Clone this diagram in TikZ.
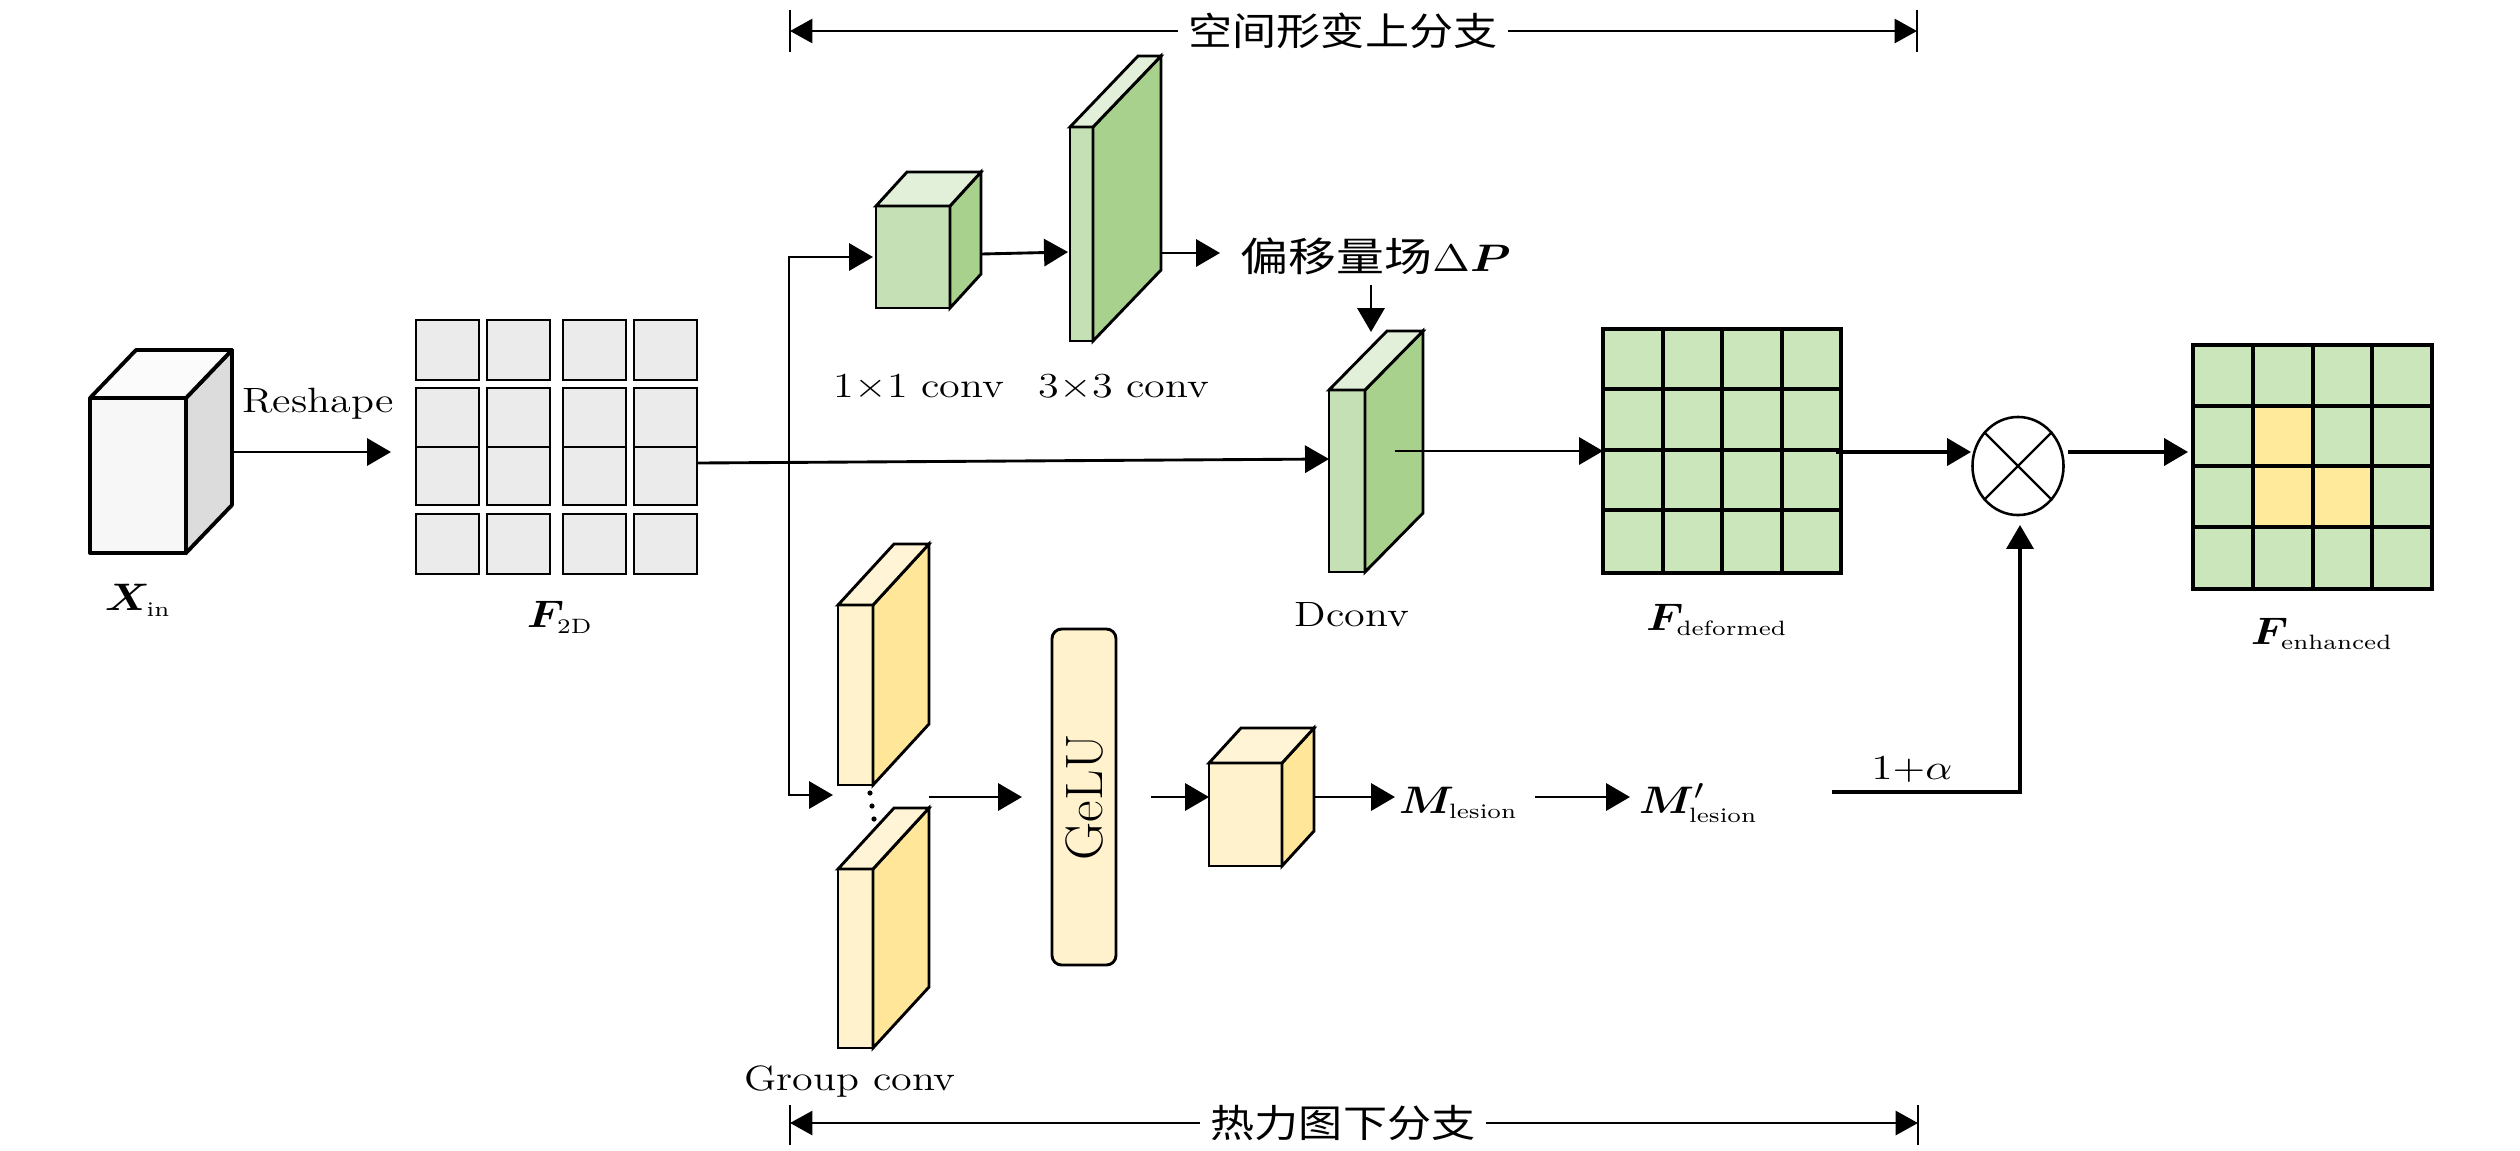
\documentclass[tikz,border=0pt]{standalone}
\usepackage{fontspec}
\usepackage{bm}
\usetikzlibrary{arrows.meta,shapes.geometric}
\newfontfamily\cjk{Noto Sans CJK SC}
\definecolor{gfront}{HTML}{C5E0B4}
\definecolor{gside}{HTML}{A9D18E}
\definecolor{gtop}{HTML}{E2F0D9}
\definecolor{gcell}{HTML}{CCE6BC}
\definecolor{yfront}{HTML}{FFF2CC}
\definecolor{yside}{HTML}{FFE699}
\definecolor{ytop}{HTML}{FFF5D6}
\definecolor{ycell}{HTML}{FFE99B}
\definecolor{xfront}{HTML}{F7F7F7}
\definecolor{xside}{HTML}{DCDCDC}
\definecolor{xtop}{HTML}{FBFBFB}
\definecolor{cellgray}{HTML}{EBEBEB}
\newcommand\cuboid[9]{%
  \filldraw[box,fill=#7] (#1,#2) rectangle (#3,#4);
  \filldraw[box,fill=#8] (#3,#2) -- ++(#5,-#6) -- ++(0,{#4-#2}) -- (#3,#4) -- cycle;
  \filldraw[box,fill=#9] (#1,#2) -- ++(#5,-#6) -- ++({#3-#1},0) -- (#3,#2) -- cycle;
}
\newcommand\mlab[2]{$\bm{#1}_{\scriptscriptstyle\mathrm{#2}}$}
\begin{document}
\begin{tikzpicture}[x=0.011cm,y=-0.011cm,
  box/.style={line width=0.9pt},
  conn/.style={line width=0.9pt,-{Triangle[length=7.5pt,width=8.5pt]}},
  dim/.style={line width=0.9pt,{Triangle[length=7pt,width=7.5pt]}-{Triangle[length=7pt,width=7.5pt]}},
  tick/.style={line width=0.5pt},
  gridline/.style={line width=1.1pt,line cap=rect},
  lbl/.style={font=\fontsize{11}{13}\selectfont,xscale=1.2,inner sep=0pt},
  mathlbl/.style={font=\fontsize{13}{15}\selectfont,xscale=1.15,inner sep=0pt},
  cjklbl/.style={font=\fontsize{12}{14}\selectfont\cjk,xscale=1.15,inner xsep=3pt,inner ysep=1pt,fill=white}]
\useasboundingbox (0,0) rectangle (2520,1150);

% ---------- dimension lines ----------
\coordinate (tl) at (790,31); \coordinate (tr) at (1917,31);
\draw[tick] (790,10) -- (790,52); \draw[tick] (1917,10) -- (1917,52);
\draw[dim] (tl) -- (tr);
\node[cjklbl] (toplbl) at (1343,31) {空间形变上分支};
\coordinate (bl) at (790,1123); \coordinate (br2) at (1918,1123);
\draw[tick] (790,1105) -- (790,1145); \draw[tick] (1918,1105) -- (1918,1145);
\draw[dim] (bl) -- (br2);
\node[cjklbl] (botlbl) at (1343,1123) {热力图下分支};

% ---------- X_in ----------
\begin{scope}[box/.style={line width=1.2pt,line join=round}]
\cuboid{90}{398}{186}{553}{46}{48}{xfront}{xside}{xtop}
\end{scope}
\node[mathlbl] (xin) at (138,600) {\mlab{X}{in}};
\coordinate (xin-e) at (232,452);
\coordinate (f2d-in) at (391,452);
\node[lbl] (reshape) at (318,404) {Reshape};
\draw[conn] (xin-e) -- (f2d-in);

% ---------- F_2D grid ----------
\foreach \xa/\xb in {416/479,487/550,563/626,634/697}
  \foreach \ya/\yb in {320/380,388/447,447/505,514/574}
    \filldraw[box,fill=cellgray] (\xa,\ya) rectangle (\xb,\yb);
\node[mathlbl] (f2d) at (560,617) {\mlab{F}{2D}};
\coordinate (f2d-e) at (697,463);

% ---------- upper branch ----------
\cuboid{876}{206}{950}{308}{31}{34}{gfront}{gside}{gtop}
\cuboid{1070}{127}{1093}{341}{68}{71}{gfront}{gside}{gtop}
\node[lbl] (c1lbl) at (919,387) {1$\times$1 conv};
\node[lbl] (c3lbl) at (1124,387) {3$\times$3 conv};
\coordinate (c1-w) at (873,257);
\coordinate (c1-e) at (981,254);
\coordinate (c3-w) at (1068,252);
\coordinate (c3-e) at (1161,253);
\coordinate (dp-in) at (1220,253);
\node[lbl,anchor=west] (dp) at (1240,256) {{\cjk\fontsize{12.5}{14}\selectfont 偏移量场}{\fontsize{13}{15}\selectfont$\Delta\bm{P}$}};
\coordinate (dp-s) at (1371,285);

% Dconv
\cuboid{1329}{390}{1365}{572}{58}{59}{gfront}{gside}{gtop}
\node[lbl] (dconv) at (1352,615) {Dconv};
\coordinate (dconv-top) at (1371,332);
\coordinate (dconv-w) at (1329,459);
\coordinate (dconv-out) at (1395,451);

\draw[conn] (c1-e) -- (c3-w);
\draw[conn] (c3-e) -- (dp-in);
\draw[conn] (dp-s) -- (dconv-top);

% main line and branch
\coordinate (brp) at (789,462);
\draw[conn] (f2d-e) -- (dconv-w);
\draw[conn] (brp) |- (c1-w);

% ---------- F_deformed ----------
\fill[gcell] (1603,329) rectangle (1841,573);
\foreach \x in {1603,1663,1722,1782,1841} \draw[gridline] (\x,329) -- (\x,573);
\foreach \y in {329,389,450,510,573} \draw[gridline] (1603,\y) -- (1841,\y);
\node[mathlbl] (fdef) at (1717,620) {\mlab{F}{deformed}};
\coordinate (fdef-w) at (1603,451);
\coordinate (fdef-e) at (1836,452);
\draw[conn] (dconv-out) -- (fdef-w);

% ---------- otimes ----------
\node[draw,line width=0.8pt,ellipse,minimum width=28.5pt,minimum height=30.7pt,inner sep=0pt] (ot) at (2018,466) {};
\draw[line width=0.7pt] (ot.135) -- (ot.-45);
\draw[line width=0.7pt] (ot.45) -- (ot.-135);
\coordinate (ot-w) at (1971,452);
\coordinate (ot-e) at (2068,452);
\coordinate (ot-s) at (2020,525);
\draw[conn,line width=1.1pt] (fdef-e) -- (ot-w);

% ---------- F_enhanced ----------
\fill[gcell] (2193,345) rectangle (2432,589);
\fill[ycell] (2253,406) rectangle (2313,527);
\fill[ycell] (2313,466) rectangle (2372,527);
\foreach \x in {2193,2253,2313,2372,2432} \draw[gridline] (\x,345) -- (\x,589);
\foreach \y in {345,406,466,527,589} \draw[gridline] (2193,\y) -- (2432,\y);
\node[mathlbl] (fenh) at (2322,634) {\mlab{F}{enhanced}};
\coordinate (fenh-w) at (2188,452);
\draw[conn,line width=1.1pt] (ot-e) -- (fenh-w);

% ---------- lower branch ----------
\cuboid{838}{605}{873}{785}{56}{61}{yfront}{yside}{ytop}
\cuboid{838}{869}{873}{1048}{56}{61}{yfront}{yside}{ytop}
\fill (870,793) circle (2.6);
\fill (872,806) circle (2.6);
\fill (874,819) circle (2.6);
\node[lbl] (gclbl) at (850,1082) {Group conv};
\coordinate (gc-in) at (833,795);
\draw[conn] (brp) |- (gc-in);
\coordinate (gc-out) at (929,797);

\draw[box,fill=yfront,rounded corners=3pt] (1052,629) rectangle (1116,965);
\node[font=\fontsize{16.5}{18}\selectfont,rotate=90,inner sep=0pt] (gelu) at (1084,797) {GeLU};
\coordinate (gelu-in) at (1022,797);
\coordinate (gelu-out) at (1151,797);
\draw[conn] (gc-out) -- (gelu-in);

\cuboid{1209}{763}{1282}{866}{32}{35}{yfront}{yside}{ytop}
\coordinate (cube-w) at (1209,797);
\coordinate (cube-e) at (1314,797);
\draw[conn] (gelu-out) -- (cube-w);

\node[mathlbl,anchor=west] (ml) at (1398,803) {\mlab{M}{lesion}};
\coordinate (ml-in) at (1395,797);
\draw[conn] (cube-e) -- (ml-in);
\coordinate (ml-out) at (1535,797);
\coordinate (mlp-in) at (1630,797);
\node[mathlbl,anchor=west] (mlp) at (1638,803) {$\bm{M}'_{\scriptscriptstyle\mathrm{lesion}}$};
\draw[conn] (ml-out) -- (mlp-in);

\coordinate (al) at (1832,792);
\node[lbl] (alpha) at (1912,770) {$1{+}\alpha$};
\draw[conn,line width=1pt] (al) -| (ot-s);
\end{tikzpicture}
\end{document}
